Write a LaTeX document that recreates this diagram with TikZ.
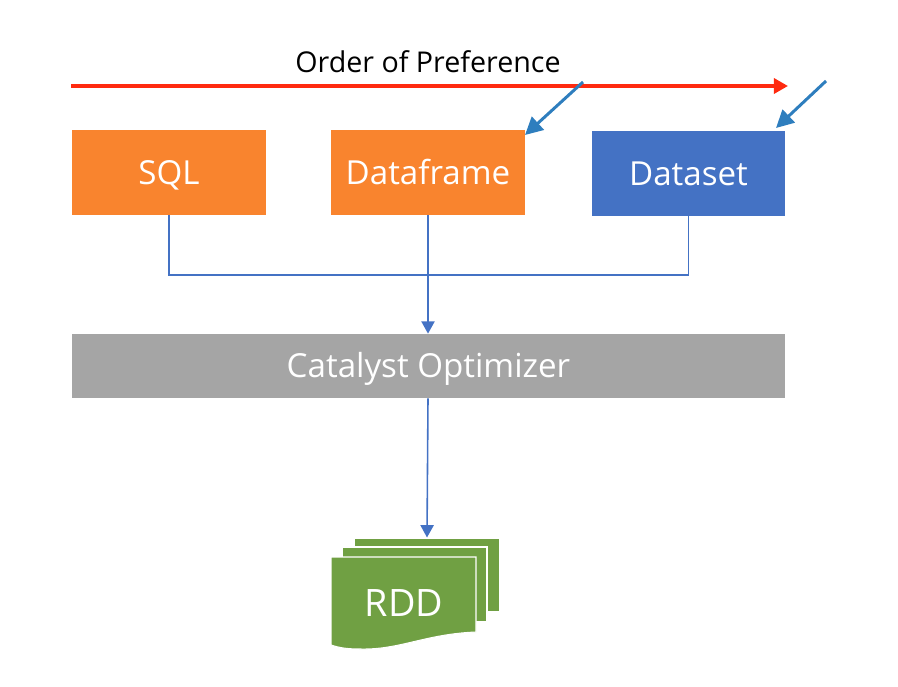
\documentclass[tikz,border=0pt]{standalone}
\usepackage{fontspec}
\setmainfont{Open Sans}
\usetikzlibrary{arrows.meta}
\usetikzlibrary{positioning}
\usepackage{xcolor}
\definecolor{boxorange}{HTML}{F9842E}
\definecolor{boxblue}{HTML}{4472C4}
\definecolor{boxgray}{HTML}{A5A5A5}
\definecolor{boxgreen}{HTML}{70A043}
\definecolor{markblue}{HTML}{2E7EBE}
\definecolor{linered}{HTML}{FF2A0F}
\tikzset{
	boxtext/.style={inner sep=0pt, text=white, text height=13.5pt, text depth=0pt, font=\fontsize{18.85pt}{22pt}\selectfont},
	apibox/.style={boxtext, minimum width=3.88cm, minimum height=1.7cm},
	sheet/.style={fill=boxgreen, draw=white, line width=0.6pt},
	link/.style={draw=boxblue, line width=0.9pt},
	linktip/.style={-{Triangle[length=7pt,width=7.5pt]}},
	marker/.style={draw=markblue, line width=1.7pt, -{Triangle[length=10pt,width=10pt]}}
}
\begin{document}
\begin{tikzpicture}[x=0.02cm,y=-0.02cm]
	\useasboundingbox (0,0) rectangle (898,686);
	% 顺序
	\node (title) at (428,62) {\fontsize{16.3pt}{20pt}\selectfont Order of Preference};
	\coordinate (redstart) at (71,86);
	\coordinate (redend) at (788,86);
	\draw[linered, line width=2.1pt, -{Triangle[length=8pt,width=8.5pt]}] (redstart) -- (redend);

	% 三个接口
	\node[apibox, fill=boxorange] (sql) at (169,172.5) {SQL};
	\node[apibox, fill=boxorange] (dataframe) at (428,172.5) {Dataframe};
	\node[apibox, fill=boxblue] (dataset) at (688.5,173.5) {Dataset};
	\node[boxtext, fill=boxgray, minimum width=14.26cm, minimum height=1.28cm] (catalyst) at (428.5,366) {Catalyst Optimizer};

	% RDD
	\node[sheet, minimum width=2.92cm, minimum height=1.48cm, inner sep=0pt] (rddback) at (427,575) {};
	\node[sheet, minimum width=2.9cm, minimum height=1.5cm, inner sep=0pt] (rddmid) at (414.5,584.5) {};
	\path[sheet] (331,557) -- (476,557) -- (476,632) .. controls (425,634) and (400,650) .. (360,649) .. controls (348,649) and (340,648) .. (331,645) -- cycle;
	\node[boxtext, text height=15.4pt, font=\fontsize{21.5pt}{25pt}\selectfont] (rdd) at (404,603) {RDD};

	% 连线
	\coordinate (merge) at (dataframe.south |- 0,275);
	\draw[link] (sql.south) |- (merge);
	\draw[link] (dataset.south) |- (merge);
	\draw[link, linktip] (dataframe.south) -- (dataframe.south |- catalyst.north);
	\draw[link, linktip] (catalyst.south -| dataframe.south) -- (rddback.north);

	% 标记
	\coordinate (markone) at (583,82);
	\coordinate (marktwo) at (826,81);
	\coordinate (tipone) at (525,135);
	\coordinate (tiptwo) at (776,128);
	\draw[marker] (markone) -- (tipone);
	\draw[marker] (marktwo) -- (tiptwo);
\end{tikzpicture}
\end{document}
